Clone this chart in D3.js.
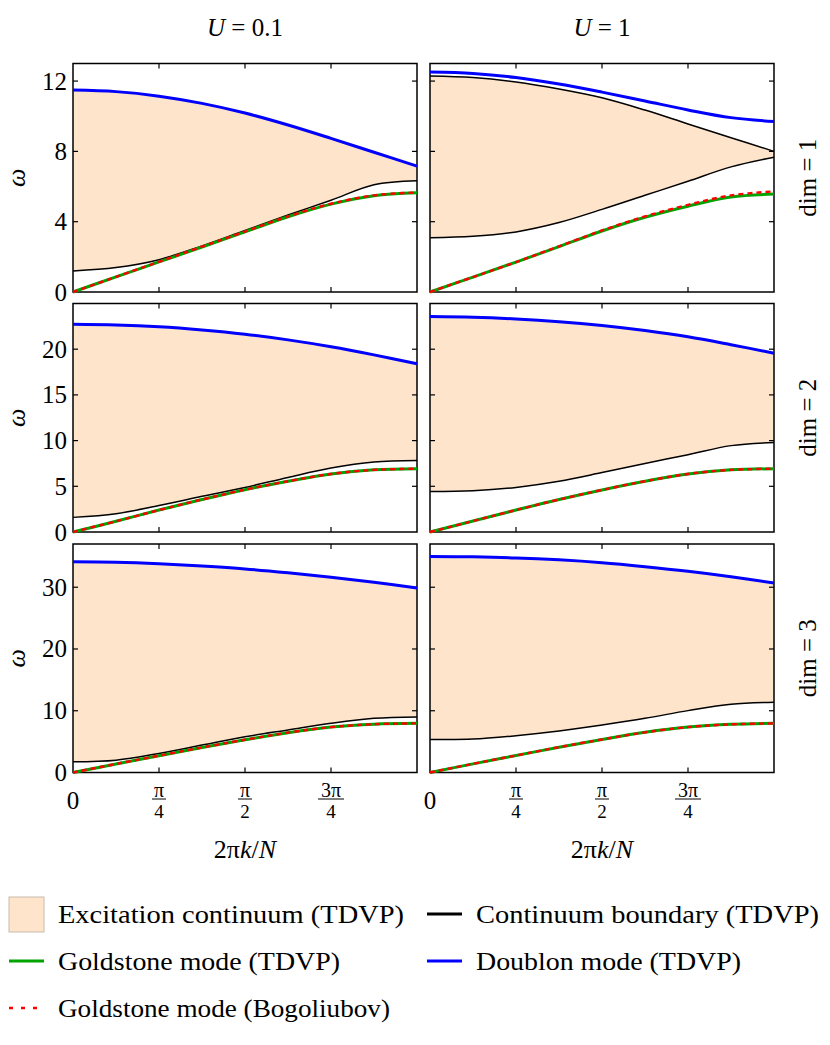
<!DOCTYPE html>
<meta charset="utf-8">
<html>
<head>
<script src="https://d3js.org/d3.v7.min.js"></script>
<style>
  body { margin: 0; background: #fff; }
</style>
</head>
<body>
<script>
// k in units of pi
var kFrac = [0, 0.125, 0.25, 0.375, 0.5, 0.625, 0.75, 0.875, 1];
var uLabels = ["0.1", "1"];
var dimLabels = ["1", "2", "3"];
var yMax = [13, 25, 37];
var yTicks = [[0, 4, 8, 12], [0, 5, 10, 15, 20], [0, 10, 20, 30]];
var xTicks = [0.25, 0.5, 0.75];
var xTickLabels = [["π", "4"], ["π", "2"], ["3π", "4"]];

// panel order: dim1 U=0.1, dim1 U=1, dim2 U=0.1, dim2 U=1, dim3 U=0.1, dim3 U=1
var doublon = [
  [11.49, 11.4, 11.14, 10.73, 10.18, 9.5, 8.74, 7.95, 7.16],
  [12.51, 12.43, 12.2, 11.83, 11.37, 10.87, 10.36, 9.92, 9.7],
  [22.73, 22.66, 22.46, 22.11, 21.64, 21.02, 20.27, 19.38, 18.4],
  [23.57, 23.5, 23.31, 23.01, 22.59, 22.04, 21.36, 20.49, 19.56],
  [34.11, 34.04, 33.8, 33.43, 32.97, 32.34, 31.62, 30.8, 29.89],
  [34.98, 34.92, 34.75, 34.43, 33.96, 33.32, 32.58, 31.7, 30.7]
];
// upper continuum edge; null = lies under the doublon line
var boundaryHigh = [
  null,
  [12.29, 12.2, 11.95, 11.55, 11.05, 10.35, 9.56, 8.78, 8.0],
  null, null, null, null
];
var boundaryLow = [
  [1.2, 1.39, 1.84, 2.62, 3.5, 4.38, 5.22, 6.1, 6.33],
  [3.09, 3.17, 3.42, 3.95, 4.7, 5.5, 6.3, 7.12, 7.67],
  [1.6, 2.0, 2.9, 3.9, 4.88, 5.97, 6.99, 7.65, 7.83],
  [4.44, 4.52, 4.88, 5.55, 6.5, 7.5, 8.45, 9.45, 9.79],
  [1.73, 2.0, 3.09, 4.44, 5.79, 6.88, 7.96, 8.77, 8.99],
  [5.36, 5.41, 5.96, 6.71, 7.69, 8.77, 10.02, 11.05, 11.37]
];
var goldstone = [
  [0, 0.86, 1.71, 2.56, 3.42, 4.28, 5.0, 5.48, 5.64],
  [0, 0.85, 1.7, 2.58, 3.47, 4.25, 4.88, 5.4, 5.57],
  [0, 1.17, 2.4, 3.55, 4.63, 5.55, 6.35, 6.8, 6.92],
  [0, 1.2, 2.4, 3.55, 4.6, 5.55, 6.35, 6.8, 6.92],
  [0, 1.38, 2.72, 4.05, 5.3, 6.45, 7.35, 7.82, 7.96],
  [0, 1.4, 2.75, 4.1, 5.35, 6.5, 7.35, 7.8, 7.96]
];
var bogoliubov = [
  [0, 0.86, 1.72, 2.58, 3.44, 4.3, 5.02, 5.5, 5.66],
  [0, 0.85, 1.7, 2.6, 3.5, 4.3, 4.96, 5.5, 5.72],
  [0, 1.17, 2.4, 3.55, 4.63, 5.55, 6.35, 6.8, 6.92],
  [0, 1.2, 2.4, 3.55, 4.6, 5.55, 6.35, 6.8, 6.92],
  [0, 1.38, 2.72, 4.05, 5.3, 6.45, 7.35, 7.82, 7.96],
  [0, 1.4, 2.75, 4.1, 5.35, 6.5, 7.35, 7.8, 7.96]
];

var fillColor = "#fde4cb",
    blue = "#0000ff",
    green = "#00a400",
    red = "#ff0000",
    serif = "Liberation Serif";

var svg = d3.select("body").append("svg")
    .attr("width", 830)
    .attr("height", 1045);

var colX = [73, 430], panelW = 344,
    rowY = [63.5, 303.5, 544], panelH = 228.5,
    tickLen = 5;

var x = d3.scaleLinear().domain([0, Math.PI]).range([0, panelW]);
var curve = d3.curveCatmullRom.alpha(0.5);

function pts(vals) {
  return vals.map(function(v, i){ return [kFrac[i] * Math.PI, v]; });
}

function label(sel, size) {
  return sel.append("text")
      .attr("font-family", serif)
      .attr("font-size", size)
      .attr("fill", "#000");
}

doublon.forEach(function(_, p){
  var r = Math.floor(p / 2), c = p % 2;
  var y = d3.scaleLinear().domain([0, yMax[r]]).range([panelH, 0]);
  var g = svg.append("g")
      .attr("transform", "translate(" + colX[c] + "," + rowY[r] + ")");

  var line = d3.line()
      .x(function(d){ return x(d[0]); })
      .y(function(d){ return y(d[1]); })
      .curve(curve);

  var high = boundaryHigh[p] || doublon[p];
  var band = kFrac.map(function(f, i){ return [f * Math.PI, boundaryLow[p][i], high[i]]; });

  g.append("path")
      .attr("d", d3.area()
          .x(function(d){ return x(d[0]); })
          .y0(function(d){ return y(d[1]); })
          .y1(function(d){ return y(d[2]); })
          .curve(curve)(band))
      .attr("fill", fillColor);

  // frame
  g.append("rect")
      .attr("width", panelW).attr("height", panelH)
      .attr("fill", "none").attr("stroke", "#000").attr("stroke-width", 1.5);

  // inward ticks on all four sides
  yTicks[r].forEach(function(t){
    if (t === 0) return;
    g.append("line").attr("x1", 0).attr("x2", tickLen)
        .attr("y1", y(t)).attr("y2", y(t)).attr("stroke", "#000").attr("stroke-width", 1.2);
    g.append("line").attr("x1", panelW - tickLen).attr("x2", panelW)
        .attr("y1", y(t)).attr("y2", y(t)).attr("stroke", "#000").attr("stroke-width", 1.2);
  });
  xTicks.forEach(function(t){
    var xx = x(t * Math.PI);
    g.append("line").attr("x1", xx).attr("x2", xx)
        .attr("y1", 0).attr("y2", tickLen).attr("stroke", "#000").attr("stroke-width", 1.2);
    g.append("line").attr("x1", xx).attr("x2", xx)
        .attr("y1", panelH - tickLen).attr("y2", panelH).attr("stroke", "#000").attr("stroke-width", 1.2);
  });

  if (boundaryHigh[p]) {
    g.append("path").attr("d", line(pts(boundaryHigh[p])))
        .attr("fill", "none").attr("stroke", "#000").attr("stroke-width", 1.5);
  }
  g.append("path").attr("d", line(pts(boundaryLow[p])))
      .attr("fill", "none").attr("stroke", "#000").attr("stroke-width", 1.5);
  g.append("path").attr("d", line(pts(doublon[p])))
      .attr("fill", "none").attr("stroke", blue).attr("stroke-width", 3);
  g.append("path").attr("d", line(pts(goldstone[p])))
      .attr("fill", "none").attr("stroke", green).attr("stroke-width", 3);
  g.append("path").attr("d", line(pts(bogoliubov[p])))
      .attr("fill", "none").attr("stroke", red).attr("stroke-width", 2.4)
      .attr("stroke-dasharray", "5,4");

  // y tick labels, left column only
  if (c === 0) {
    yTicks[r].forEach(function(t){
      label(g, 25)
          .attr("x", -6).attr("y", y(t))
          .attr("text-anchor", "end").attr("dominant-baseline", "central")
          .text(t);
    });
    label(g, 26)
        .attr("transform", "translate(-57," + (panelH / 2) + ") rotate(-90)")
        .attr("text-anchor", "middle").attr("dominant-baseline", "central")
        .attr("font-style", "italic").text("ω");
  }

  // row label on the right
  if (c === 1) {
    label(g, 25)
        .attr("transform", "translate(" + (panelW + 42) + "," + (panelH / 2) + ") rotate(-90)")
        .attr("text-anchor", "middle")
        .text("dim = " + dimLabels[r]);
  }

  // column title
  if (r === 0) {
    var tt = label(g, 25)
        .attr("x", panelW / 2).attr("y", -28)
        .attr("text-anchor", "middle");
    tt.append("tspan").attr("font-style", "italic").text("U");
    tt.append("tspan").text(" = " + uLabels[c]);
  }

  // x axis labels on the bottom row
  if (r === 2) {
    label(g, 25)
        .attr("x", 0).attr("y", panelH + 36)
        .attr("text-anchor", "middle").text("0");
    xTicks.forEach(function(t, i){
      var xx = x(t * Math.PI), lab = xTickLabels[i];
      label(g, 20).attr("x", xx).attr("y", panelH + 24.5)
          .attr("text-anchor", "middle").text(lab[0]);
      g.append("line")
          .attr("x1", xx - (lab[0].length > 1 ? 13 : 7)).attr("x2", xx + (lab[0].length > 1 ? 13 : 7))
          .attr("y1", panelH + 26.5).attr("y2", panelH + 26.5)
          .attr("stroke", "#000").attr("stroke-width", 1);
      label(g, 19).attr("x", xx).attr("y", panelH + 45)
          .attr("text-anchor", "middle").text(lab[1]);
    });
    var xl = label(g, 26)
        .attr("x", panelW / 2).attr("y", panelH + 85)
        .attr("text-anchor", "middle");
    xl.append("tspan").text("2π");
    xl.append("tspan").attr("font-style", "italic").text("k");
    xl.append("tspan").text("/");
    xl.append("tspan").attr("font-style", "italic").text("N");
  }
});

// legend
var legendItems = [
  {label: "Excitation continuum (TDVP)", type: "patch", x: 9, y: 914, w: 346},
  {label: "Continuum boundary (TDVP)", type: "line", color: "#000", x: 427, y: 914, w: 343},
  {label: "Goldstone mode (TDVP)", type: "line", color: green, x: 9, y: 961, w: 282},
  {label: "Doublon mode (TDVP)", type: "line", color: blue, x: 427, y: 961, w: 265},
  {label: "Goldstone mode (Bogoliubov)", type: "dash", color: red, x: 9, y: 1008, w: 332}
];

var leg = svg.append("g");
legendItems.forEach(function(d){
  if (d.type === "patch") {
    leg.append("rect").attr("x", d.x).attr("y", d.y - 17).attr("width", 35).attr("height", 35)
        .attr("fill", fillColor).attr("stroke", "#c9bcae").attr("stroke-width", 1);
  } else {
    leg.append("line").attr("x1", d.x).attr("x2", d.x + 35)
        .attr("y1", d.y).attr("y2", d.y)
        .attr("stroke", d.color).attr("stroke-width", d.type === "dash" ? 2.6 : 2.8)
        .attr("stroke-dasharray", d.type === "dash" ? "4,8" : null);
  }
  label(leg, 26)
      .attr("x", d.x + 49).attr("y", d.y + 9)
      .attr("textLength", d.w).attr("lengthAdjust", "spacingAndGlyphs")
      .text(d.label);
});
</script>
</body>
</html>
